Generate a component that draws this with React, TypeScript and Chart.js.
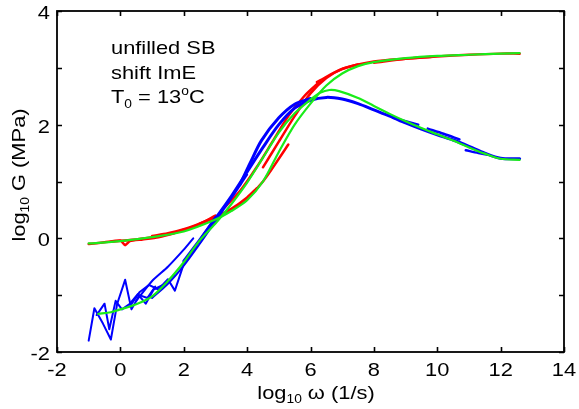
import React, { useEffect, useRef } from "react";
import { Chart, registerables } from "chart.js";

Chart.register(...registerables);

// ---- axis ticks ----
const xTickValues = [-2, 0, 2, 4, 6, 8, 10, 12, 14];
const yLabelValues = [-2, 0, 2, 4];
const yTickValues = [-2, -1, 0, 1, 2, 3, 4];

// ---- G' (storage modulus) measured segments, red ----
const r1x = [-1.0, -0.5, 0.0, 0.15, 0.3, 0.7, 1.2, 1.7, 2.2];
const r1y = [-0.1, -0.07, -0.04, -0.12, -0.05, -0.02, 0.02, 0.09, 0.18];
const r2x = [-0.3, 0.3, 0.9, 1.5, 2.0, 2.5, 3.0];
const r2y = [-0.06, -0.03, 0.01, 0.07, 0.15, 0.25, 0.4];
const r3x = [1.0, 1.5, 2.0, 2.5, 3.0, 3.5, 4.0, 4.3];
const r3y = [0.04, 0.09, 0.16, 0.26, 0.38, 0.52, 0.72, 0.88];
const r4x = [2.5, 3.0, 3.5, 4.0, 4.5, 5.0, 5.3];
const r4y = [0.26, 0.36, 0.5, 0.7, 1.0, 1.4, 1.65];
const r5x = [3.3, 3.8, 4.3, 4.8, 5.3, 5.8, 6.3];
const r5y = [0.55, 0.85, 1.25, 1.7, 2.15, 2.5, 2.76];
const r6x = [4.5, 5.0, 5.5, 6.0, 6.5, 7.0, 7.5];
const r6y = [1.25, 1.7, 2.15, 2.55, 2.82, 2.98, 3.06];
const r7x = [6.2, 7.0, 8.0, 9.0, 9.8];
const r7y = [2.75, 2.98, 3.11, 3.16, 3.19];
const r8x = [8.0, 9.0, 10.0, 11.0, 12.0, 12.6];
const r8y = [3.09, 3.16, 3.2, 3.23, 3.25, 3.25];

// ---- G'' (loss modulus) measured segments, blue ----
const b1x = [-1.0, -0.82, -0.55, -0.3, -0.1, 0.15, 0.35, 0.6, 0.85, 1.1];
const b1y = [-1.8, -1.23, -1.5, -1.78, -1.15, -0.73, -1.25, -1.0, -1.05, -0.85];
const b2x = [-0.75, -0.5, -0.35, -0.15, 0.05, 0.3, 0.55, 0.8, 1.05, 1.35, 1.7];
const b2y = [-1.35, -1.15, -1.6, -1.1, -1.25, -1.15, -0.98, -1.15, -0.9, -0.82, -0.65];
const b3x = [0.3, 0.6, 0.9, 1.2, 1.5, 1.72, 2.0, 2.3, 2.6, 3.0];
const b3y = [-1.2, -0.95, -0.82, -0.9, -0.72, -0.92, -0.45, -0.22, 0.05, 0.38];
const b4x = [0.5, 1.0, 1.5, 2.0, 2.3];
const b4y = [-1.1, -0.75, -0.5, -0.2, 0.0];
const b5x = [1.0, 1.5, 2.0, 2.5, 3.0, 3.5, 4.0];
const b5y = [-1.05, -0.8, -0.48, -0.1, 0.3, 0.7, 1.12];
const b6x = [2.0, 2.5, 3.0, 3.5, 4.0, 4.5, 5.0, 5.5, 6.0, 6.5, 7.0, 7.5, 8.0, 8.5, 9.0, 9.5, 10.0, 10.5, 11.0, 11.5, 12.0, 12.6];
const b6y = [-0.4, -0.03, 0.35, 0.74, 1.17, 1.6, 2.0, 2.29, 2.43, 2.48, 2.45, 2.37, 2.26, 2.15, 2.03, 1.92, 1.82, 1.73, 1.62, 1.5, 1.41, 1.4];
const b7x = [3.77, 4.1, 4.45, 5.0, 5.5, 6.0];
const b7y = [0.94, 1.33, 1.72, 2.12, 2.36, 2.46];
const b8x = [8.6, 9.0, 9.4];
const b8y = [2.12, 2.06, 2.0];
const b9x = [9.7, 10.2, 10.7];
const b9y = [1.93, 1.84, 1.74];
const b10x = [10.9, 11.3, 11.6];
const b10y = [1.55, 1.5, 1.47];

// ---- model fits, green ----
const gpFitX = [-1, 0, 1, 2, 3, 3.5, 4, 4.5, 5, 5.5, 6, 6.5, 7, 7.5, 8, 9, 10, 11, 12, 12.6];
const gpFitY = [-0.09, -0.05, 0.02, 0.12, 0.33, 0.48, 0.67, 1.0, 1.52, 2.0, 2.37, 2.69, 2.9, 3.03, 3.1, 3.17, 3.21, 3.23, 3.25, 3.26];
const gppFitX = [-0.7, -0.3, 0, 0.5, 1, 1.5, 2, 2.5, 3, 3.5, 4, 4.5, 5, 5.5, 6, 6.3, 6.6, 6.9, 7.5, 8, 8.5, 9, 9.5, 10, 10.5, 11, 11.5, 12, 12.6];
const gppFitY = [-1.33, -1.3, -1.25, -1.16, -1.02, -0.75, -0.42, -0.04, 0.26, 0.6, 0.98, 1.42, 1.86, 2.2, 2.44, 2.56, 2.61, 2.59, 2.47, 2.33, 2.19, 2.06, 1.94, 1.83, 1.72, 1.6, 1.49, 1.4, 1.38];

const RED = "#ff0000";
const BLUE = "#0000ff";
const GREEN = "#19ec19";

const zip = (xs: number[], ys: number[]) => xs.map((x, i) => ({ x, y: ys[i] }));

const FONT = '"Liberation Sans", Arial, sans-serif';
const SX = 1.15;

type Part = { t: string; size: number; dy: number };

function drawRich(ctx: CanvasRenderingContext2D, parts: Part[], x: number, y: number, align: "left" | "center" | "right") {
  ctx.save();
  ctx.textBaseline = "alphabetic";
  ctx.textAlign = "left";
  let w = 0;
  const widths = parts.map((p) => {
    ctx.font = `${p.size}px ${FONT}`;
    const m = ctx.measureText(p.t).width;
    w += m;
    return m;
  });
  const total = w * SX;
  let start = x;
  if (align === "center") start = x - total / 2;
  else if (align === "right") start = x - total;
  ctx.translate(start, y);
  ctx.scale(SX, 1);
  let cx = 0;
  parts.forEach((p, i) => {
    ctx.font = `${p.size}px ${FONT}`;
    ctx.fillText(p.t, cx, p.dy);
    cx += widths[i];
  });
  ctx.restore();
}

const decorPlugin = {
  id: "decor",
  afterDraw(chart: any) {
    const ctx: CanvasRenderingContext2D = chart.ctx;
    const { left, right, top, bottom } = chart.chartArea;
    const xs = chart.scales.x;
    const ys = chart.scales.y;
    ctx.save();
    ctx.fillStyle = "#000";
    ctx.strokeStyle = "#000";
    ctx.lineWidth = 1.8;
    ctx.strokeRect(left, top, right - left, bottom - top);
    const TL = 5;
    ctx.lineWidth = 1.6;
    ctx.beginPath();
    xTickValues.forEach((v) => {
      const px = Math.round(xs.getPixelForValue(v)) + 0.5;
      ctx.moveTo(px, bottom);
      ctx.lineTo(px, bottom - TL);
      ctx.moveTo(px, top);
      ctx.lineTo(px, top + TL);
    });
    yTickValues.forEach((v) => {
      const py = Math.round(ys.getPixelForValue(v)) + 0.5;
      ctx.moveTo(left, py);
      ctx.lineTo(left + TL, py);
      ctx.moveTo(right, py);
      ctx.lineTo(right - TL, py);
    });
    ctx.stroke();

    // tick labels
    xTickValues.forEach((v) => {
      const px = xs.getPixelForValue(v);
      drawRich(ctx, [{ t: String(v), size: 19, dy: 0 }], px, 376, "center");
    });
    yLabelValues.forEach((v) => {
      const py = ys.getPixelForValue(v);
      drawRich(ctx, [{ t: String(v), size: 19, dy: 0 }], 50, py + 8, "right");
    });

    // axis titles
    drawRich(
      ctx,
      [
        { t: "log", size: 19, dy: 0 },
        { t: "10", size: 12, dy: 4 },
        { t: " ω (1/s)", size: 19, dy: 0 },
      ],
      316,
      399,
      "center"
    );
    ctx.save();
    ctx.translate(25, 175);
    ctx.rotate(-Math.PI / 2);
    drawRich(
      ctx,
      [
        { t: "log", size: 19, dy: 0 },
        { t: "10", size: 12, dy: 4 },
        { t: " G (MPa)", size: 19, dy: 0 },
      ],
      0,
      0,
      "center"
    );
    ctx.restore();

    // annotation
    drawRich(ctx, [{ t: "unfilled SB", size: 19, dy: 0 }], 111, 54, "left");
    drawRich(ctx, [{ t: "shift ImE", size: 19, dy: 0 }], 111, 79, "left");
    drawRich(
      ctx,
      [
        { t: "T", size: 19, dy: 0 },
        { t: "0", size: 12, dy: 5 },
        { t: " = 13", size: 19, dy: 0 },
        { t: "o", size: 12, dy: -8 },
        { t: "C", size: 19, dy: 0 },
      ],
      111,
      103,
      "left"
    );
    ctx.restore();
  },
};

export default function App() {
  const ref = useRef<HTMLCanvasElement | null>(null);
  useEffect(() => {
    if (!ref.current) return;
    const line = (xs: number[], ys: number[], color: string, width: number, tension: number) => ({
      data: zip(xs, ys),
      borderColor: color,
      backgroundColor: color,
      borderWidth: width,
      pointRadius: 0,
      tension,
      fill: false,
      borderCapStyle: "round" as const,
      borderJoinStyle: "round" as const,
    });
    // Chart.js paints the first dataset on top: fits first, then G'', then G'
    const datasets = [
      line(gpFitX, gpFitY, GREEN, 2.2, 0.3),
      line(gppFitX, gppFitY, GREEN, 2.2, 0.3),
      line(b1x, b1y, BLUE, 2, 0),
      line(b2x, b2y, BLUE, 2, 0),
      line(b3x, b3y, BLUE, 2, 0),
      line(b4x, b4y, BLUE, 2, 0.2),
      line(b5x, b5y, BLUE, 2, 0.3),
      line(b6x, b6y, BLUE, 3, 0.3),
      line(b7x, b7y, BLUE, 3, 0.3),
      line(b8x, b8y, BLUE, 2.5, 0.3),
      line(b9x, b9y, BLUE, 2.5, 0.3),
      line(b10x, b10y, BLUE, 2.5, 0.3),
      line(r1x, r1y, RED, 2.5, 0.2),
      line(r2x, r2y, RED, 2.5, 0.3),
      line(r3x, r3y, RED, 2.5, 0.3),
      line(r4x, r4y, RED, 2.5, 0.3),
      line(r5x, r5y, RED, 2.5, 0.3),
      line(r6x, r6y, RED, 2.5, 0.3),
      line(r7x, r7y, RED, 2.5, 0.3),
      line(r8x, r8y, RED, 2.5, 0.3),
    ];
    const chart = new Chart(ref.current, {
      type: "line",
      data: { datasets },
      options: {
        animation: false,
        responsive: true,
        maintainAspectRatio: false,
        layout: { padding: { left: 57, top: 11, right: 15, bottom: 57 } },
        plugins: { legend: { display: false }, tooltip: { enabled: false } },
        scales: {
          x: { type: "linear", min: -2, max: 14, display: false },
          y: { type: "linear", min: -2, max: 4, display: false },
        },
      },
      plugins: [decorPlugin],
    });
    return () => chart.destroy();
  }, []);
  return (
    <div style={{ position: "absolute", left: 0, top: 0, width: 579, height: 409, background: "#fff" }}>
      <canvas ref={ref} />
    </div>
  );
}
